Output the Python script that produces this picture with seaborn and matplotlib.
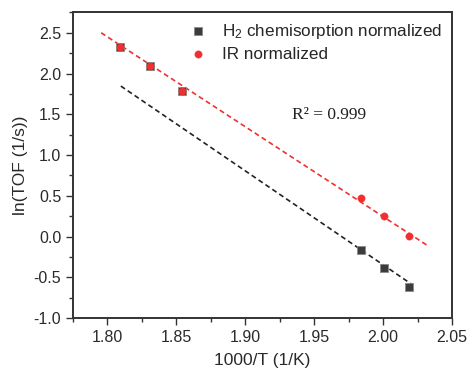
import numpy as np
import pandas as pd
import matplotlib
matplotlib.use("Agg")
import matplotlib.pyplot as plt
import seaborn as sns

# data
inv_t = [1.809, 1.831, 1.854, 1.984, 2.001, 2.019]
ln_tof_h2 = [2.33, 2.09, 1.79, -0.16, -0.385, -0.625]
ln_tof_ir = [2.33, 2.09, 1.79, 0.478, 0.252, 0.012]

# dashed fit lines (end points)
fit_h2_x = [1.8097, 2.0211]
fit_h2_y = [1.846, -0.590]
fit_ir_x = [1.7954, 2.0319]
fit_ir_y = [2.50, -0.107]

label_h2 = "H$_2$ chemisorption normalized"
label_ir = "IR normalized"
r2_text = "R\u00b2 = 0.999"

x_ticks = [1.80, 1.85, 1.90, 1.95, 2.00, 2.05]
y_ticks = [-1.0, -0.5, 0.0, 0.5, 1.0, 1.5, 2.0, 2.5]

dark = "#3c3c3c"
red = "#f03030"


def main():
	sns.set_theme(style="ticks")
	plt.rcParams["font.family"] = ["Liberation Sans", "DejaVu Sans"]
	plt.rcParams["mathtext.fontset"] = "custom"
	plt.rcParams["mathtext.rm"] = "Liberation Sans"
	plt.rcParams["mathtext.it"] = "Liberation Sans"

	fig = plt.figure(figsize=(4.69, 3.70), dpi=100)
	ax = fig.add_axes([0.1557, 0.1405, 0.808, 0.826])

	df_h2 = pd.DataFrame({"x": inv_t, "y": ln_tof_h2})
	df_ir = pd.DataFrame({"x": inv_t, "y": ln_tof_ir})

	sns.lineplot(x=fit_h2_x, y=fit_h2_y, ax=ax, color="#222222", lw=1.2,
		legend=False, zorder=2)
	ax.lines[-1].set_dashes((3, 2))
	sns.lineplot(x=fit_ir_x, y=fit_ir_y, ax=ax, color=red, lw=1.2,
		legend=False, zorder=2)
	ax.lines[-1].set_dashes((3, 2))

	sns.scatterplot(data=df_h2, x="x", y="y", ax=ax, marker="s", s=36,
		color=dark, edgecolor="#8a8a8a", linewidth=0.6, label=label_h2, zorder=3)
	sns.scatterplot(data=df_ir, x="x", y="y", ax=ax, marker="o", s=28,
		color=red, edgecolor=red, linewidth=0.3, label=label_ir, zorder=4)

	ax.set_xlim(1.775, 2.05)
	ax.set_ylim(-1.0, 2.75)
	ax.set_xticks(x_ticks)
	ax.set_xticklabels([f"{v:.2f}" for v in x_ticks])
	ax.set_yticks(y_ticks)
	ax.set_yticklabels([f"{v:.1f}" for v in y_ticks])
	ax.set_xticks(np.arange(1.775, 2.051, 0.025), minor=True)
	ax.set_yticks(np.arange(-1.0, 2.76, 0.25), minor=True)
	ax.tick_params(axis="both", which="major", length=5, width=1, color="#333333",
		labelsize=11.5, labelcolor="#2a2a2a", direction="out")
	ax.tick_params(axis="both", which="minor", length=3, width=1, color="#333333",
		direction="out")

	# closed box like the reference
	for sp in ax.spines.values():
		sp.set_visible(True)
		sp.set_color("#333333")
		sp.set_linewidth(1.4)

	ax.set_xlabel("1000/T (1/K)", fontsize=12.5, color="#2a2a2a", labelpad=6)
	ax.set_ylabel("ln(TOF (1/s))", fontsize=12.5, color="#2a2a2a", labelpad=4)

	ax.text(1.934, 1.49, r2_text, fontsize=12.5, family="Liberation Serif",
		va="center", ha="left", color="#222222")

	ax.legend(loc="upper right", frameon=False, fontsize=12.3, handletextpad=0.4,
		borderaxespad=0.15, labelspacing=0.35, markerscale=1.0)

	fig.savefig("out.png", dpi=100, facecolor="white")
	plt.close(fig)


if __name__ == "__main__":
	main()
